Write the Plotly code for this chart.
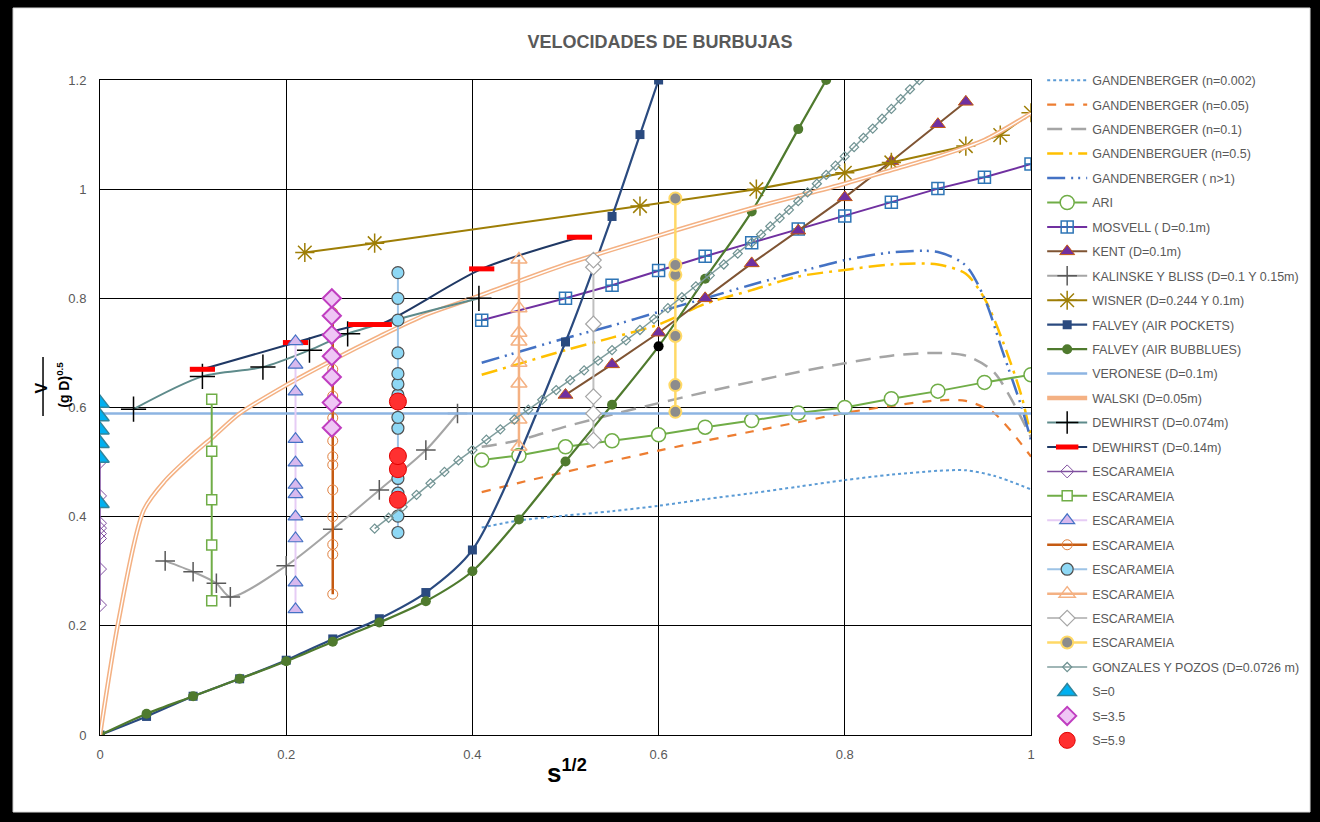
import plotly.graph_objects as go

# ---- data ----
gand_x = [0.41, 0.45, 0.5, 0.55, 0.6, 0.65, 0.7, 0.75, 0.8, 0.85, 0.9, 0.93, 0.96, 1.0]
gand_0002 = [0.380, 0.393, 0.402, 0.410, 0.420, 0.432, 0.443, 0.455, 0.467, 0.477, 0.484, 0.485, 0.475, 0.450]
gand_005 = [0.445, 0.462, 0.482, 0.502, 0.521, 0.539, 0.556, 0.573, 0.590, 0.603, 0.613, 0.612, 0.590, 0.510]
gand_01 = [0.528, 0.540, 0.565, 0.587, 0.608, 0.628, 0.647, 0.665, 0.681, 0.695, 0.700, 0.695, 0.665, 0.545]
gand_hi_x = [0.41, 0.45, 0.5, 0.55, 0.6, 0.65, 0.7, 0.75, 0.8, 0.85, 0.9, 0.93, 0.95, 0.97, 0.99, 1.0]
gand_05 = [0.660, 0.680, 0.705, 0.728, 0.752, 0.790, 0.815, 0.840, 0.852, 0.862, 0.862, 0.845, 0.800, 0.720, 0.620, 0.545]
gand_n1 = [0.682, 0.702, 0.727, 0.750, 0.775, 0.800, 0.825, 0.848, 0.870, 0.884, 0.885, 0.860, 0.800, 0.700, 0.600, 0.540]

ari_x = [0.41, 0.45, 0.5, 0.55, 0.6, 0.65, 0.7, 0.75, 0.8, 0.85, 0.9, 0.95, 1.0]
ari_y = [0.504, 0.512, 0.528, 0.539, 0.550, 0.564, 0.576, 0.590, 0.600, 0.616, 0.630, 0.646, 0.660]

mosvell_x = [0.41, 0.5, 0.55, 0.6, 0.65, 0.7, 0.75, 0.8, 0.85, 0.9, 0.95, 1.0]
mosvell_y = [0.760, 0.800, 0.824, 0.851, 0.877, 0.902, 0.927, 0.951, 0.976, 1.001, 1.022, 1.046]

kent_x = [0.5, 0.55, 0.6, 0.65, 0.7, 0.75, 0.8, 0.85, 0.9, 0.93]
kent_y = [0.623, 0.679, 0.737, 0.800, 0.864, 0.924, 0.985, 1.051, 1.119, 1.160]

kalinske_x = [0.07, 0.1, 0.125, 0.14, 0.2, 0.25, 0.3, 0.35, 0.384]
kalinske_y = [0.319, 0.299, 0.278, 0.253, 0.310, 0.377, 0.449, 0.522, 0.589]

wisner_x = [0.22, 0.295, 0.58, 0.705, 0.8, 0.85, 0.93, 0.967, 1.0]
wisner_y = [0.884, 0.901, 0.969, 1.000, 1.030, 1.049, 1.079, 1.099, 1.140]

falvey_p_x = [0, 0.05, 0.1, 0.15, 0.2, 0.25, 0.3, 0.35, 0.4, 0.5, 0.55, 0.58, 0.6]
falvey_p_y = [0, 0.034, 0.071, 0.103, 0.137, 0.176, 0.213, 0.261, 0.339, 0.720, 0.950, 1.100, 1.200]

falvey_b_x = [0, 0.05, 0.1, 0.15, 0.2, 0.25, 0.3, 0.35, 0.4, 0.45, 0.5, 0.55, 0.6, 0.65, 0.7, 0.75, 0.78]
falvey_b_y = [0, 0.039, 0.071, 0.103, 0.135, 0.171, 0.206, 0.245, 0.300, 0.395, 0.501, 0.605, 0.712, 0.836, 0.959, 1.110, 1.200]

veronese_x = [0, 1]
veronese_y = [0.589, 0.589]

walski_x = [0, 0.02, 0.047, 0.07, 0.1, 0.122, 0.15, 0.2, 0.25, 0.3, 0.35, 0.4, 0.5, 0.6, 0.7, 0.8, 0.85, 0.9, 0.95, 1.0]
walski_y = [0, 0.21, 0.412, 0.466, 0.515, 0.547, 0.589, 0.641, 0.687, 0.730, 0.770, 0.800, 0.862, 0.915, 0.965, 1.010, 1.035, 1.060, 1.090, 1.139]

dew074_x = [0.036, 0.11, 0.175, 0.225, 0.266, 0.407]
dew074_y = [0.597, 0.657, 0.674, 0.705, 0.735, 0.800]

dew14_x = [0.11, 0.21, 0.28, 0.30, 0.41, 0.515]
dew14_y = [0.670, 0.719, 0.752, 0.752, 0.854, 0.912]

esc_purple_y = [0.238, 0.304, 0.360, 0.369, 0.379, 0.388, 0.438, 0.500]
esc_green_y = [0.246, 0.348, 0.431, 0.520, 0.615]
esc_lav_y = [0.230, 0.279, 0.360, 0.400, 0.441, 0.458, 0.499, 0.542, 0.629, 0.678, 0.721]
esc_orange_y = [0.258, 0.331, 0.349, 0.400, 0.449, 0.495, 0.510, 0.539, 0.581, 0.621, 0.670, 0.700, 0.735, 0.774]
esc_blue_y = [0.371, 0.401, 0.443, 0.470, 0.562, 0.582, 0.623, 0.643, 0.662, 0.700, 0.760, 0.800, 0.847]
esc_lorange_y = [0.528, 0.578, 0.644, 0.682, 0.721, 0.737, 0.782, 0.871]
esc_gray_y = [0.540, 0.589, 0.620, 0.753, 0.857, 0.870]
esc_yellow_y = [0.592, 0.641, 0.731, 0.843, 0.861, 0.983]
esc_x = {"purple": 0.0, "green": 0.12, "lav": 0.21, "orange": 0.25, "blue": 0.32,
         "lorange": 0.45, "gray": 0.53, "yellow": 0.618}

gonz_x = [0.295, 0.31, 0.325, 0.34, 0.355, 0.37, 0.385, 0.40, 0.415, 0.43, 0.445, 0.46, 0.475, 0.49,
          0.505, 0.52, 0.535, 0.55, 0.565, 0.58, 0.595, 0.61, 0.625, 0.64, 0.655, 0.67, 0.685, 0.70,
          0.71, 0.72, 0.73, 0.74, 0.75, 0.76, 0.77, 0.78, 0.79, 0.80, 0.81, 0.82, 0.83, 0.84, 0.85,
          0.86, 0.87, 0.88]
gonz_y = [0.378, 0.398, 0.418, 0.440, 0.461, 0.482, 0.503, 0.522, 0.541, 0.560, 0.578, 0.596, 0.614, 0.632,
          0.650, 0.668, 0.686, 0.705, 0.723, 0.742, 0.762, 0.782, 0.802, 0.822, 0.842, 0.862, 0.882, 0.902,
          0.917, 0.932, 0.947, 0.962, 0.978, 0.994, 1.010, 1.026, 1.043, 1.060, 1.077, 1.094, 1.111, 1.129, 1.147,
          1.165, 1.183, 1.200]

s0_y = [0.424, 0.507, 0.534, 0.559, 0.583, 0.608]
s35_y = [0.563, 0.609, 0.656, 0.694, 0.733, 0.768, 0.800]
s59_y = [0.431, 0.487, 0.511, 0.611]

# ---- figure ----
fig = go.Figure()


def add(name, x, y, color, width=2, dash="solid", shape="linear", marker=None, mode="lines+markers", **kw):
    fig.add_trace(go.Scatter(
        x=x, y=y, name=name, mode=mode, legendgroup=name,
        line=dict(color=color, width=width, dash=dash, shape=shape, smoothing=0.8),
        marker=marker or {}, **kw))


add("GANDENBERGER (n=0.002)", gand_x, gand_0002, "#5B9BD5", 2, "dot", "spline", mode="lines")
add("GANDENBERGER (n=0.05)", gand_x, gand_005, "#ED7D31", 2.2, "dash", "spline", mode="lines")
add("GANDENBERGER (n=0.1)", gand_x, gand_01, "#A5A5A5", 2.5, "15px,9px", "spline", mode="lines")
add("GANDENBERGUER (n=0.5)", gand_hi_x, gand_05, "#FFC000", 2.5, "16px,6px,3px,6px", "spline", mode="lines")
add("GANDENBERGER ( n>1)", gand_hi_x, gand_n1, "#4472C4", 2.5, "18px,6px,2px,5px,2px,6px", "spline", mode="lines")
add("ARI", ari_x, ari_y, "#70AD47", 2,
    marker=dict(symbol="circle", size=14, color="white", line=dict(color="#70AD47", width=1.5)))
add("MOSVELL ( D=0.1m)", mosvell_x, mosvell_y, "#7030A0", 2,
    marker=dict(symbol="square-cross-open", size=12, color="#2E75B6", line=dict(width=1.5)))
add("KENT (D=0.1m)", kent_x, kent_y, "#7F5433", 2,
    marker=dict(symbol="triangle-up", size=13, color="#7030A0", line=dict(color="#C55A11", width=1)))
add("KALINSKE Y BLISS (D=0.1 Y 0.15m)", kalinske_x, kalinske_y, "#A5A5A5", 2, shape="spline",
    marker=dict(symbol="cross-thin-open", size=14, color="#595959", line=dict(color="#595959", width=1.5)))
add("WISNER (D=0.244 Y 0.1m)", wisner_x, wisner_y, "#9E7E06", 2,
    marker=dict(symbol="asterisk-open", size=16, color="#9E7E06", line=dict(color="#9E7E06", width=1.5)))
add("FALVEY (AIR POCKETS)", falvey_p_x, falvey_p_y, "#2A4A7F", 2.2, shape="spline",
    marker=dict(symbol="square", size=9, color="#2A4A7F"))
add("FALVEY (AIR BUBBLUES)", falvey_b_x, falvey_b_y, "#4F7A2E", 2.2, shape="spline",
    marker=dict(symbol="circle", size=10,
                color=["black" if v == 0.6 else "#4F7A2E" for v in falvey_b_x]))
add("VERONESE (D=0.1m)", veronese_x, veronese_y, "#8DB4E2", 2.5, mode="lines")
add("WALSKI (D=0.05m)", walski_x, walski_y, "#F4B183", 4.5, shape="spline", mode="lines")
fig.add_trace(go.Scatter(x=walski_x, y=walski_y, mode="lines", legendgroup="WALSKI (D=0.05m)",
                         showlegend=False, hoverinfo="skip",
                         line=dict(color="white", width=1.4, shape="spline", smoothing=0.8)))
add("DEWHIRST (D=0.074m)", dew074_x, dew074_y, "#5E8B8B", 2, shape="spline",
    marker=dict(symbol="cross-thin-open", size=18, color="black", line=dict(color="black", width=1.5)))
add("DEWHIRST (D=0.14m)", dew14_x, dew14_y, "#1F3864", 2, shape="spline",
    marker=dict(symbol="line-ew-open", size=18, color="#FF0000", line=dict(color="#FF0000", width=5)))

esc_styles = [
    ("purple", esc_purple_y, "#7F4F9F", 1.5, dict(symbol="diamond-open", size=10, color="#7F4F9F")),
    ("green", esc_green_y, "#70AD47", 2, dict(symbol="square", size=10, color="white", line=dict(color="#70AD47", width=1.5))),
    ("lav", esc_lav_y, "#E6CCF5", 2, dict(symbol="triangle-up", size=13, color="#D8B9EE", line=dict(color="#4472C4", width=1.2))),
    ("orange", esc_orange_y, "#C55A11", 2.5, dict(symbol="circle-open", size=10, color="#E0803F")),
    ("blue", esc_blue_y, "#9DC3E6", 2, dict(symbol="circle", size=12, color="#8ED8F5", line=dict(color="#505050", width=1.2))),
    ("lorange", esc_lorange_y, "#F4B183", 2.5, dict(symbol="triangle-up-open", size=14, color="#F4B183", line=dict(width=1.5))),
    ("gray", esc_gray_y, "#BFBFBF", 2, dict(symbol="diamond", size=12, color="white", line=dict(color="#A6A6A6", width=1.2))),
    ("yellow", esc_yellow_y, "#FFD966", 2.5, dict(symbol="circle", size=12, color="#8C8C8C", line=dict(color="#FFD966", width=2))),
]
for key, ys, col, w, mk in esc_styles:
    fig.add_trace(go.Scatter(x=[esc_x[key]] * len(ys), y=ys, name="ESCARAMEIA", legendgroup="esc_" + key,
                             mode="lines+markers", line=dict(color=col, width=w), marker=mk))

add("GONZALES Y POZOS (D=0.0726 m)", gonz_x, gonz_y, "#809E9E", 1.5,
    marker=dict(symbol="diamond-open", size=7, color="#6F9292", line=dict(width=1.2)))

add("S=0", [0.0] * len(s0_y), s0_y, "#31859C", mode="markers",
    marker=dict(symbol="triangle-up", size=16, color="#00B0F0", line=dict(color="#31859C", width=1.5)))
add("S=3.5", [0.249] * len(s35_y), s35_y, "#C03EC0", mode="markers",
    marker=dict(symbol="diamond", size=14, color="#EFC6F5", line=dict(color="#C03EC0", width=2)))
add("S=5.9", [0.32] * len(s59_y), s59_y, "#FF0000", mode="markers",
    marker=dict(symbol="circle", size=17, color="#FF3030", line=dict(color="#E00000", width=1)))

axis_font = dict(family="Liberation Sans", size=13, color="#595959")
fig.update_xaxes(range=[0, 1], dtick=0.2, tickformat="~g", showgrid=True, gridcolor="black", gridwidth=1,
                 showline=True, mirror=True, linecolor="black", linewidth=1, zeroline=False,
                 tickfont=axis_font, ticks="", ticklen=0, ticklabelstandoff=7)
fig.update_yaxes(range=[0, 1.2], dtick=0.2, tickformat="~g", showgrid=True, gridcolor="black", gridwidth=1,
                 showline=True, mirror=True, linecolor="black", linewidth=1, zeroline=False,
                 tickfont=axis_font, ticks="", ticklen=0, ticklabelstandoff=10)

fig.update_layout(
    width=1320, height=822,
    margin=dict(l=100, r=289, t=80, b=87),
    paper_bgcolor="black", plot_bgcolor="white",
    title=dict(text="<b>VELOCIDADES DE BURBUJAS</b>", x=0.5, xref="container", y=0.949, yanchor="middle",
               font=dict(family="Liberation Sans", size=18, color="#595959")),
    legend=dict(x=1.012, y=1.022, xanchor="left", yanchor="top", tracegroupgap=5.2, maxheight=760,
                itemwidth=40, font=dict(family="Liberation Sans", size=12.5, color="#595959"),
                bgcolor="rgba(0,0,0,0)"),
    showlegend=True,
    shapes=[
        dict(type="rect", xref="paper", yref="paper", x0=-0.0934, x1=1.2997, y0=-0.1176, y1=1.1099,
             fillcolor="white", line=dict(color="#D9D9D9", width=1), layer="below"),
        dict(type="line", xref="paper", yref="paper", x0=-0.0612, x1=-0.0612, y0=0.487, y1=0.577,
             line=dict(color="black", width=1.5)),
    ],
    annotations=[
        dict(text="<b>V</b>", xref="paper", yref="paper", x=-0.074, y=0.530, showarrow=False,
             textangle=-90, font=dict(family="Liberation Sans", size=16, color="black")),
        dict(text="<b>(g D)<sup>0.5</sup></b>", xref="paper", yref="paper", x=-0.051, y=0.534, showarrow=False,
             textangle=-90, font=dict(family="Liberation Sans", size=14, color="black")),
        dict(text="<b>s<sup>1/2</sup></b>", xref="paper", yref="paper", x=0.5016, y=-0.084, showarrow=False,
             font=dict(family="Liberation Sans", size=26, color="black")),
    ],
)

fig.write_html("out.html", config={"displayModeBar": False},
               post_script="document.body.style.margin='0';")
